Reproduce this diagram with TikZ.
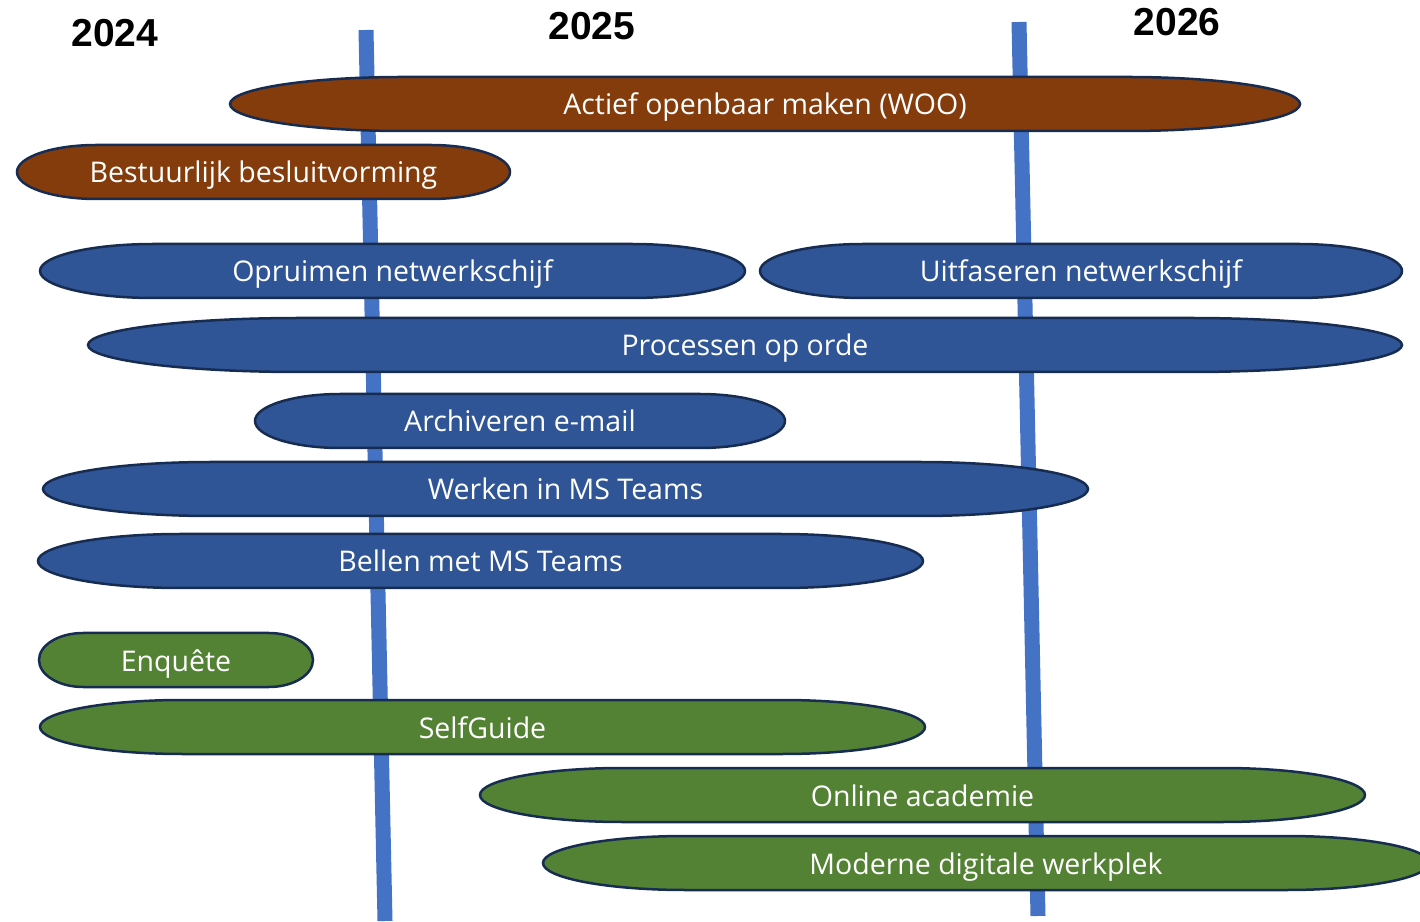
\documentclass[tikz,border=0pt]{standalone}
\usepackage{fontspec}
\setmainfont{Open Sans}
\newfontfamily\yearfont{Liberation Sans}
\definecolor{woobrown}{HTML}{843C0C}
\definecolor{itblue}{HTML}{2F5597}
\definecolor{learngreen}{HTML}{548235}
\definecolor{edgenavy}{HTML}{172C51}
\definecolor{lineblue}{HTML}{4472C4}
\tikzset{
  barshape/.style={draw=edgenavy,line width=2.5pt},
  bartext/.style={text=white,anchor=base,inner sep=0pt,font=\fontsize{28.5}{30}\selectfont},
  year/.style={font=\yearfont\bfseries\fontsize{39}{40}\selectfont,inner sep=0pt},
  timeline/.style={lineblue,line width=15pt}
}
% name, left, right, y (from top), fill, text
\newcommand{\phasebar}[6]{%
  \pgfmathsetmacro\rx{0.161*(#3-#2)}%
  \pgfmathsetmacro\cy{921-#4}%
  \draw[barshape,fill=#5] ({#2+\rx},{\cy-27}) -- ({#3-\rx},{\cy-27})
    arc[start angle=-90,end angle=90,x radius=\rx pt,y radius=27pt]
    -- ({#2+\rx},{\cy+27})
    arc[start angle=90,end angle=270,x radius=\rx pt,y radius=27pt] -- cycle;
  \node[bartext] (#1) at ({(#2+#3)/2},{\cy-11}) {#6};}
\begin{document}
\begin{tikzpicture}[x=1pt,y=1pt]
  \useasboundingbox (0,0) rectangle (1420,921);
  \coordinate(ta)at(366,891);\coordinate(tb)at(385,0);
  \coordinate(tc)at(1019,899);\coordinate(td)at(1038,5);
  \draw[timeline] (ta) -- (tb) (tc) -- (td);
  \node[year] (y2024) at (115,888) {2024};
  \node[year] (y2025) at (592,895) {2025};
  \node[year] (y2026) at (1177,899) {2026};
  \phasebar{woo}{230}{1300}{104}{woobrown}{Actief openbaar maken (WOO)}
  \phasebar{bestuur}{17}{510}{172}{woobrown}{Bestuurlijk besluitvorming}
  \phasebar{opruim}{40}{745}{271}{itblue}{Opruimen netwerkschijf}
  \phasebar{uitfase}{760}{1402}{271}{itblue}{Uitfaseren netwerkschijf}
  \phasebar{proces}{88}{1402}{345}{itblue}{Processen op orde}
  \phasebar{archief}{255}{785}{421}{itblue}{Archiveren e-mail}
  \phasebar{werken}{43}{1088}{489}{itblue}{Werken in MS Teams}
  \phasebar{bellen}{38}{923}{561}{itblue}{Bellen met MS Teams}
  \phasebar{enquete}{39}{313}{660}{learngreen}{Enquête}
  \phasebar{selfguide}{40}{925}{727}{learngreen}{SelfGuide}
  \phasebar{academie}{480}{1365}{795}{learngreen}{Online academie}
  \phasebar{werkplek}{543}{1429}{863}{learngreen}{Moderne digitale werkplek}
\end{tikzpicture}
\end{document}
